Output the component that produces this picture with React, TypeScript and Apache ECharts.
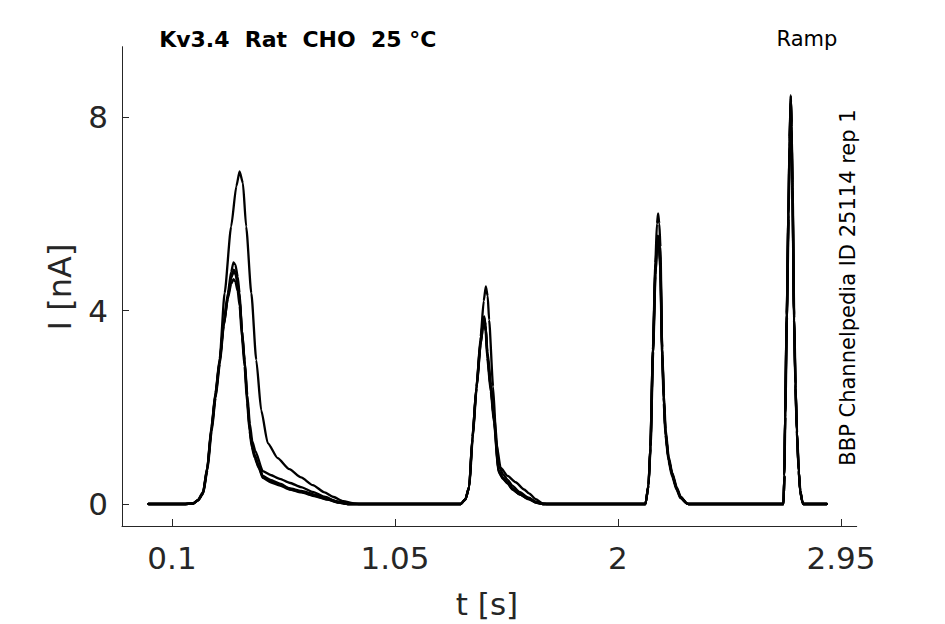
import React, { useEffect, useRef } from "react";
import * as echarts from "echarts";

const xTicks = [0.1, 1.05, 2, 2.95];
const yTicks = [0, 4, 8];

const traceHigh: number[][] = [
  [0, 0], [0.15, 0], [0.189, 0.01], [0.21, 0.08], [0.232, 0.25], [0.25, 0.75], [0.268, 1.6], [0.285, 2.3],
  [0.303, 3.0], [0.324, 4.36], [0.352, 5.74], [0.374, 6.57], [0.388, 6.88], [0.402, 6.64], [0.416, 5.74],
  [0.438, 4.36], [0.459, 2.98], [0.48, 1.94], [0.508, 1.26], [0.55, 0.95], [0.6, 0.72], [0.65, 0.55],
  [0.7, 0.39], [0.75, 0.24], [0.785, 0.15], [0.83, 0.06], [0.87, 0.02], [0.9, 0], [1.33, 0], [1.35, 0.1],
  [1.366, 0.36], [1.38, 1.39], [1.397, 2.43], [1.415, 3.46], [1.428, 4.2], [1.437, 4.5], [1.445, 4.3],
  [1.451, 3.81], [1.468, 2.43], [1.482, 1.26], [1.5, 0.75], [1.53, 0.58], [1.564, 0.45], [1.6, 0.3],
  [1.621, 0.22], [1.65, 0.1], [1.677, 0.02], [1.7, 0], [2.117, 0], [2.13, 0.4], [2.138, 1.19], [2.149, 3.25],
  [2.159, 4.98], [2.166, 5.8], [2.171, 6.01], [2.176, 5.8], [2.181, 5.32], [2.188, 3.25], [2.195, 2.2],
  [2.202, 1.53], [2.215, 0.95], [2.23, 0.64], [2.25, 0.33], [2.266, 0.15], [2.294, 0.01], [2.3, 0],
  [2.705, 0], [2.709, 0.6], [2.712, 1.88], [2.719, 3.95], [2.726, 6.01], [2.731, 7.6], [2.736, 8.46],
  [2.739, 7.9], [2.743, 6.7], [2.75, 3.95], [2.756, 2.5], [2.762, 1.53], [2.77, 0.7], [2.776, 0.29],
  [2.785, 0.06], [2.79, 0], [2.889, 0],
];

const traceLowA: number[][] = [
  [0, 0], [0.15, 0], [0.189, 0.01], [0.21, 0.08], [0.232, 0.22], [0.25, 0.72], [0.268, 1.55], [0.285, 2.25],
  [0.303, 2.95], [0.32, 3.75], [0.338, 4.36], [0.352, 4.8], [0.362, 5.0], [0.37, 4.95], [0.38, 4.7],
  [0.388, 4.36], [0.398, 3.6], [0.409, 2.98], [0.42, 2.2], [0.43, 1.6], [0.44, 1.25], [0.452, 1.02],
  [0.47, 0.8], [0.487, 0.58], [0.52, 0.5], [0.56, 0.42], [0.6, 0.33], [0.65, 0.27], [0.714, 0.19],
  [0.76, 0.11], [0.813, 0.04], [0.85, 0], [1.33, 0], [1.35, 0.1], [1.366, 0.36], [1.38, 1.39],
  [1.397, 2.43], [1.415, 3.4], [1.425, 3.8], [1.43, 3.88], [1.436, 3.7], [1.443, 3.12], [1.458, 2.4],
  [1.472, 1.74], [1.49, 0.7], [1.51, 0.55], [1.53, 0.45], [1.55, 0.33], [1.58, 0.22], [1.62, 0.12],
  [1.65, 0.04], [1.68, 0], [2.117, 0], [2.13, 0.4], [2.138, 1.19], [2.149, 3.2], [2.159, 4.8], [2.166, 5.4],
  [2.17, 5.5], [2.175, 5.4], [2.18, 5.0], [2.188, 3.2], [2.195, 2.2], [2.202, 1.5], [2.215, 0.95],
  [2.23, 0.62], [2.25, 0.32], [2.266, 0.14], [2.294, 0.01], [2.3, 0], [2.705, 0], [2.709, 0.6],
  [2.712, 1.85], [2.719, 3.9], [2.726, 5.95], [2.731, 7.5], [2.736, 8.4], [2.739, 7.85], [2.743, 6.6],
  [2.75, 3.9], [2.756, 2.45], [2.762, 1.5], [2.77, 0.68], [2.776, 0.28], [2.785, 0.05], [2.79, 0], [2.889, 0],
];

const traceLowB: number[][] = [
  [0, 0], [0.15, 0], [0.19, 0.01], [0.212, 0.08], [0.233, 0.22], [0.251, 0.7], [0.269, 1.5], [0.286, 2.2],
  [0.304, 2.9], [0.321, 3.7], [0.339, 4.3], [0.353, 4.7], [0.363, 4.85], [0.371, 4.8], [0.381, 4.55],
  [0.389, 4.2], [0.399, 3.5], [0.41, 2.9], [0.421, 2.15], [0.431, 1.55], [0.441, 1.2], [0.453, 0.98],
  [0.47, 0.76], [0.488, 0.55], [0.52, 0.47], [0.56, 0.4], [0.6, 0.31], [0.65, 0.25], [0.71, 0.17],
  [0.76, 0.1], [0.81, 0.03], [0.85, 0], [1.33, 0], [1.35, 0.1], [1.367, 0.36], [1.381, 1.35], [1.398, 2.4],
  [1.416, 3.35], [1.426, 3.72], [1.431, 3.8], [1.437, 3.62], [1.444, 3.05], [1.459, 2.35], [1.473, 1.7],
  [1.491, 0.68], [1.51, 0.53], [1.53, 0.43], [1.55, 0.31], [1.58, 0.2], [1.62, 0.1], [1.65, 0.03],
  [1.68, 0], [2.117, 0], [2.13, 0.38], [2.139, 1.15], [2.15, 3.15], [2.16, 4.75], [2.167, 5.35],
  [2.171, 5.45], [2.176, 5.32], [2.181, 4.9], [2.189, 3.1], [2.196, 2.1], [2.203, 1.45], [2.216, 0.92],
  [2.231, 0.6], [2.251, 0.3], [2.267, 0.13], [2.295, 0.01], [2.3, 0], [2.705, 0], [2.709, 0.58],
  [2.713, 1.8], [2.72, 3.85], [2.727, 5.9], [2.732, 7.45], [2.737, 8.35], [2.74, 7.8], [2.744, 6.55],
  [2.751, 3.85], [2.757, 2.4], [2.763, 1.48], [2.771, 0.66], [2.777, 0.27], [2.786, 0.05], [2.79, 0], [2.889, 0],
];

const traceLowC: number[][] = [
  [0, 0], [0.15, 0], [0.19, 0.01], [0.211, 0.07], [0.232, 0.21], [0.25, 0.7], [0.268, 1.52], [0.285, 2.2],
  [0.303, 2.92], [0.32, 3.68], [0.338, 4.25], [0.352, 4.55], [0.362, 4.65], [0.37, 4.6], [0.38, 4.4],
  [0.388, 4.1], [0.398, 3.45], [0.409, 2.85], [0.42, 2.1], [0.43, 1.52], [0.44, 1.18], [0.452, 0.96],
  [0.47, 0.74], [0.487, 0.54], [0.52, 0.45], [0.56, 0.38], [0.6, 0.3], [0.65, 0.24], [0.71, 0.16],
  [0.76, 0.09], [0.81, 0.03], [0.85, 0], [1.33, 0], [1.35, 0.09], [1.366, 0.34], [1.38, 1.33],
  [1.397, 2.38], [1.415, 3.3], [1.425, 3.66], [1.43, 3.74], [1.436, 3.58], [1.443, 3.02], [1.458, 2.32],
  [1.472, 1.68], [1.49, 0.67], [1.51, 0.52], [1.53, 0.42], [1.55, 0.3], [1.58, 0.2], [1.62, 0.1],
  [1.65, 0.03], [1.68, 0], [2.117, 0], [2.13, 0.37], [2.138, 1.13], [2.149, 3.1], [2.159, 4.7],
  [2.166, 5.3], [2.17, 5.4], [2.175, 5.28], [2.18, 4.85], [2.188, 3.05], [2.195, 2.08], [2.202, 1.43],
  [2.215, 0.9], [2.23, 0.58], [2.25, 0.29], [2.266, 0.12], [2.294, 0.01], [2.3, 0], [2.705, 0],
  [2.709, 0.57], [2.712, 1.78], [2.719, 3.8], [2.726, 5.85], [2.731, 7.4], [2.736, 8.3], [2.739, 7.75],
  [2.743, 6.5], [2.75, 3.8], [2.756, 2.38], [2.762, 1.46], [2.77, 0.65], [2.776, 0.26], [2.785, 0.05],
  [2.79, 0], [2.889, 0],
];

const traceMid: number[][] = [
  [0, 0], [0.15, 0], [0.19, 0.01], [0.211, 0.08], [0.232, 0.23], [0.25, 0.74], [0.268, 1.57], [0.285, 2.27],
  [0.303, 2.97], [0.32, 3.72], [0.338, 4.3], [0.352, 4.68], [0.362, 4.8], [0.37, 4.76], [0.38, 4.55],
  [0.388, 4.25], [0.398, 3.6], [0.41, 2.95], [0.421, 2.25], [0.432, 1.65], [0.442, 1.3], [0.455, 1.1],
  [0.487, 0.68], [0.52, 0.6], [0.56, 0.52], [0.6, 0.44], [0.65, 0.35], [0.7, 0.25], [0.75, 0.15],
  [0.8, 0.06], [0.85, 0], [1.33, 0], [1.35, 0.1], [1.366, 0.35], [1.38, 1.36], [1.397, 2.4],
  [1.415, 3.38], [1.425, 3.78], [1.43, 3.85], [1.436, 3.68], [1.444, 3.15], [1.46, 2.45], [1.474, 1.8],
  [1.492, 0.78], [1.51, 0.62], [1.53, 0.5], [1.55, 0.38], [1.58, 0.25], [1.62, 0.13], [1.65, 0.05],
  [1.68, 0], [2.117, 0], [2.13, 0.39], [2.138, 1.17], [2.149, 3.2], [2.159, 4.85], [2.166, 5.45],
  [2.17, 5.55], [2.175, 5.45], [2.18, 5.05], [2.188, 3.25], [2.196, 2.25], [2.203, 1.55], [2.216, 0.98],
  [2.231, 0.65], [2.251, 0.34], [2.267, 0.15], [2.295, 0.01], [2.3, 0], [2.705, 0], [2.709, 0.59],
  [2.712, 1.86], [2.719, 3.92], [2.726, 5.98], [2.731, 7.55], [2.736, 8.43], [2.739, 7.88], [2.743, 6.65],
  [2.75, 3.92], [2.756, 2.48], [2.762, 1.52], [2.77, 0.69], [2.776, 0.28], [2.785, 0.05], [2.79, 0], [2.889, 0],
];

const traces = [traceLowA, traceLowB, traceLowC, traceMid, traceHigh];

export default function App() {
  const ref = useRef<HTMLDivElement>(null);
  useEffect(() => {
    if (!ref.current) return;
    const chart = echarts.init(ref.current, null, { renderer: "svg" });
    const axisColor = "#262626";
    const tickFont = "DejaVu Sans";
    chart.setOption({
      animation: false,
      backgroundColor: "#ffffff",
      grid: { left: 122, right: 88.3, top: 46.7, bottom: 98, outerBoundsMode: "none" },
      xAxis: {
        type: "value",
        min: -0.113,
        max: 3.017,
        splitLine: { show: false },
        axisLine: { show: true, onZero: false, lineStyle: { color: axisColor, width: 1 } },
        axisTick: { show: true, inside: true, length: 7, customValues: xTicks, lineStyle: { color: axisColor, width: 1 } },
        axisLabel: {
          show: true,
          customValues: xTicks,
          margin: 16,
          color: axisColor,
          fontSize: 31,
          fontFamily: tickFont,
          formatter: (v: number) => String(v),
        },
      },
      yAxis: {
        type: "value",
        min: -0.455,
        max: 9.46,
        splitLine: { show: false },
        axisLine: { show: true, onZero: false, lineStyle: { color: axisColor, width: 1 } },
        axisTick: { show: true, inside: true, length: 7, customValues: yTicks, lineStyle: { color: axisColor, width: 1 } },
        axisLabel: {
          show: true,
          customValues: yTicks,
          margin: 14,
          color: axisColor,
          fontSize: 31,
          fontFamily: tickFont,
          formatter: (v: number) => String(v),
        },
      },
      series: traces.map((d) => ({
        type: "line",
        data: d,
        showSymbol: false,
        silent: true,
        smooth: 0.2,
        smoothMonotone: "x",
        lineStyle: { color: "#000000", width: 2.3, join: "round", cap: "round" },
        z: 2,
      })),
      graphic: [
        {
          type: "text",
          x: 297.8,
          y: 39.5,
          style: {
            text: "Kv3.4  Rat  CHO  25 °C",
            fontFamily: "DejaVu Sans",
            fontWeight: "bold",
            fontSize: 22,
            fill: "#000",
            align: "center",
            verticalAlign: "middle",
          },
        },
        {
          type: "text",
          x: 807,
          y: 39,
          style: {
            text: "Ramp",
            fontFamily: "DejaVu Sans",
            fontSize: 21,
            fill: "#000",
            align: "center",
            verticalAlign: "middle",
          },
        },
        {
          type: "text",
          x: 848,
          y: 287.5,
          rotation: Math.PI / 2,
          style: {
            text: "BBP Channelpedia ID 25114 rep 1",
            fontFamily: "DejaVu Sans",
            fontSize: 21,
            fill: "#000",
            align: "center",
            verticalAlign: "middle",
          },
        },
        {
          type: "text",
          x: 60,
          y: 287,
          rotation: Math.PI / 2,
          style: {
            text: "I [nA]",
            fontFamily: "DejaVu Sans",
            fontSize: 32,
            fill: axisColor,
            align: "center",
            verticalAlign: "middle",
          },
        },
        {
          type: "text",
          x: 487,
          y: 604,
          style: {
            text: "t [s]",
            fontFamily: "DejaVu Sans",
            fontSize: 31,
            fill: axisColor,
            align: "center",
            verticalAlign: "middle",
          },
        },
      ],
    });
    return () => chart.dispose();
  }, []);
  return (
    <div
      ref={ref}
      style={{ position: "absolute", left: 0, top: 0, width: 945, height: 624, background: "#fff" }}
    />
  );
}
